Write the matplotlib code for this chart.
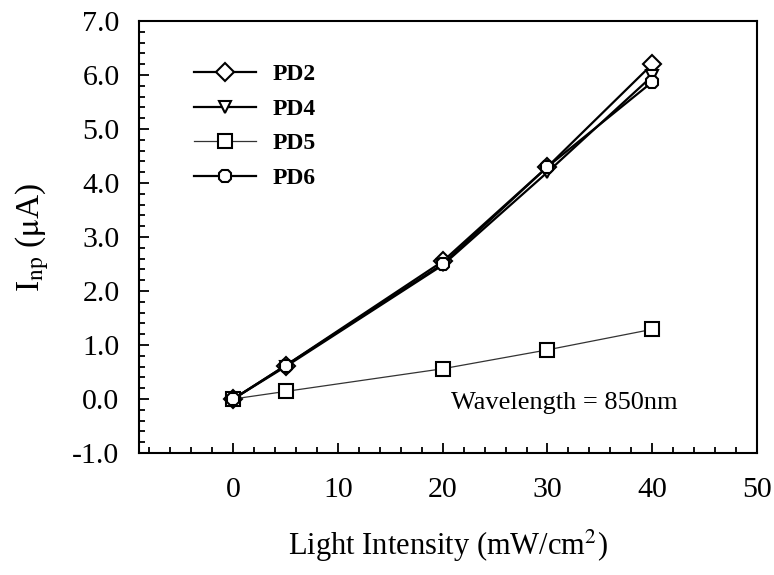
import matplotlib
matplotlib.use("Agg")
import matplotlib.pyplot as plt
from matplotlib.ticker import MultipleLocator, FormatStrFormatter

# light intensity (mW/cm^2)
intensity = [0, 5, 20, 30, 40]

# photocurrent (uA) per device
pd2 = [0.0, 0.62, 2.55, 4.30, 6.20]
pd4 = [0.0, 0.60, 2.48, 4.20, 5.98]
pd5 = [0.0, 0.14, 0.56, 0.91, 1.29]
pd6 = [0.0, 0.62, 2.50, 4.30, 5.87]

plt.rcParams['font.family'] = ['Liberation Serif', 'DejaVu Serif']
plt.rcParams['mathtext.fontset'] = 'stix'

fig = plt.figure(figsize=(7.74, 5.75), dpi=100)
ax = fig.add_axes([0.1796, 0.2122, 0.7984, 0.7513])

mk = dict(markerfacecolor='white', markeredgecolor='black', markeredgewidth=1.5)
ax.plot(intensity, pd2, '-', color='black', lw=1.6, marker='D', markersize=9, label='PD2', **mk)
ax.plot(intensity, pd4, '-', color='black', lw=1.6, marker='v', markersize=8, label='PD4', **mk)
ax.plot(intensity, pd5, '-', color='#333333', lw=0.9, marker='s', markersize=9.5, label='PD5', **mk)
ax.plot(intensity, pd6, '-', color='black', lw=1.6, marker='8', markersize=9.5, label='PD6', **mk)

ax.set_xlim(-9, 50)
ax.set_ylim(-1.0, 7.0)
ax.xaxis.set_major_locator(MultipleLocator(10))
ax.xaxis.set_minor_locator(MultipleLocator(2))
ax.yaxis.set_major_locator(MultipleLocator(1))
ax.yaxis.set_minor_locator(MultipleLocator(0.2))
ax.yaxis.set_major_formatter(FormatStrFormatter('%.1f'))

ax.tick_params(which='both', direction='in', top=False, right=False, width=1.3)
ax.tick_params(which='major', length=7, labelsize=21.5, pad=14)
ax.tick_params(which='minor', length=4)
ax.tick_params(axis='x', which='major', pad=17)
for s in ax.spines.values():
    s.set_linewidth(1.5)

ax.set_xlabel('Light Intensity (mW/cm$^2$)', fontsize=22, labelpad=18)
ax.set_ylabel('I$_{\\mathrm{np}}$ ($\\mathrm{\\mu}$A)', fontsize=24, labelpad=15)

ax.text(31.6, -0.08, 'Wavelength = 850nm', fontsize=19, ha='center', va='center')

leg = ax.legend(loc='upper left', bbox_to_anchor=(0.055, 0.95), frameon=False,
                prop={'weight': 'bold', 'size': 17}, handlelength=2.6,
                labelspacing=0.55, handletextpad=0.7)

fig.savefig('out.png', dpi=100)
